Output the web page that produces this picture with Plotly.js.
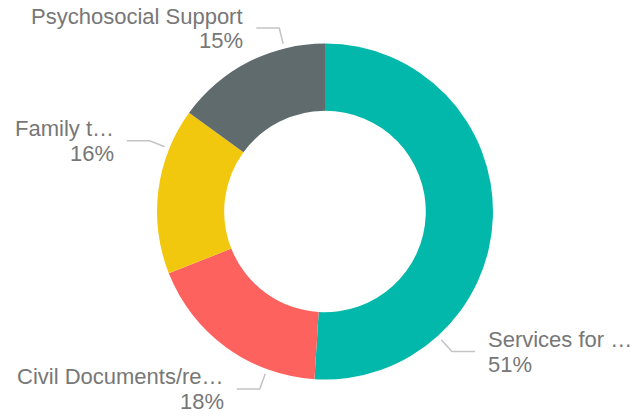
<!DOCTYPE html>
<html>
<head>
<meta charset="utf-8">
<script src="https://cdn.plot.ly/plotly-3.0.1.min.js"></script>
<style>html,body{margin:0;padding:0;background:#fff;}#chart{width:634px;height:416px;}</style>
</head>
<body>
<div id="chart"></div>
<script>
// Data
var categories = ["Services for …", "Civil Documents/re…", "Family t…", "Psychosocial Support"];
var values = [51, 18, 16, 15];
var colors = ["#01B8AA", "#FD625E", "#F2C80F", "#5F6B6D"];

// Layout parameters for outside labels (leader start angle, degrees clockwise from 12 o'clock)
var leaderAngles = [137.8, 200.2, 292, 346];

var W = 634, H = 416;
var dom = {x: [157 / W, 493 / W], y: [36.5 / H, 372.5 / H]};
var cx = (dom.x[0] + dom.x[1]) / 2 * W;
var cy = (1 - (dom.y[0] + dom.y[1]) / 2) * H;
var R = Math.min((dom.x[1] - dom.x[0]) * W, (dom.y[1] - dom.y[0]) * H) / 2;

var total = values.reduce(function (a, b) { return a + b; }, 0);
var shapes = [], annotations = [];
var r1 = R + 5, r2 = R + 21, hLen = 23, gap = 11;
var fnt = {family: "Liberation Sans, Arial, sans-serif", size: 22, color: "#777777"};
function px(x) { return x / W; }
function py(y) { return 1 - y / H; }
for (var i = 0; i < categories.length; i++) {
  var a = leaderAngles[i] * Math.PI / 180;
  var sx = Math.sin(a), sy = -Math.cos(a);
  var p1 = [cx + r1 * sx, cy + r1 * sy];
  var p2 = [cx + r2 * sx, cy + r2 * sy];
  var right = sx > 0;
  var p3 = [p2[0] + (right ? hLen : -hLen), p2[1]];
  shapes.push({
    type: "path", xref: "paper", yref: "paper",
    path: "M" + px(p1[0]) + "," + py(p1[1]) + " L" + px(p2[0]) + "," + py(p2[1]) + " L" + px(p3[0]) + "," + py(p3[1]),
    line: {color: "#C4C4C4", width: 1.5}
  });
  var tx = p3[0] + (right ? gap : -gap);
  var pct = Math.round(values[i] / total * 100) + "%";
  annotations.push({
    xref: "paper", yref: "paper", x: px(tx), y: py(p3[1] - 12),
    xanchor: right ? "left" : "right", yanchor: "middle",
    text: categories[i], showarrow: false, font: fnt, align: right ? "left" : "right"
  });
  annotations.push({
    xref: "paper", yref: "paper", x: px(tx), y: py(p3[1] + 12.5),
    xanchor: right ? "left" : "right", yanchor: "middle",
    text: pct, showarrow: false, font: fnt, align: right ? "left" : "right"
  });
}

var trace = {
  type: "pie",
  labels: categories,
  values: values,
  hole: 0.6,
  sort: false,
  direction: "clockwise",
  rotation: 0,
  textinfo: "none",
  hoverinfo: "label+percent",
  marker: {colors: colors, line: {color: "#ffffff", width: 0}},
  domain: dom
};

var layout = {
  width: W, height: H,
  margin: {l: 0, r: 0, t: 0, b: 0},
  paper_bgcolor: "#ffffff",
  showlegend: false,
  shapes: shapes,
  annotations: annotations
};

Plotly.newPlot("chart", [trace], layout, {displayModeBar: false, staticPlot: true});
</script>
</body>
</html>
